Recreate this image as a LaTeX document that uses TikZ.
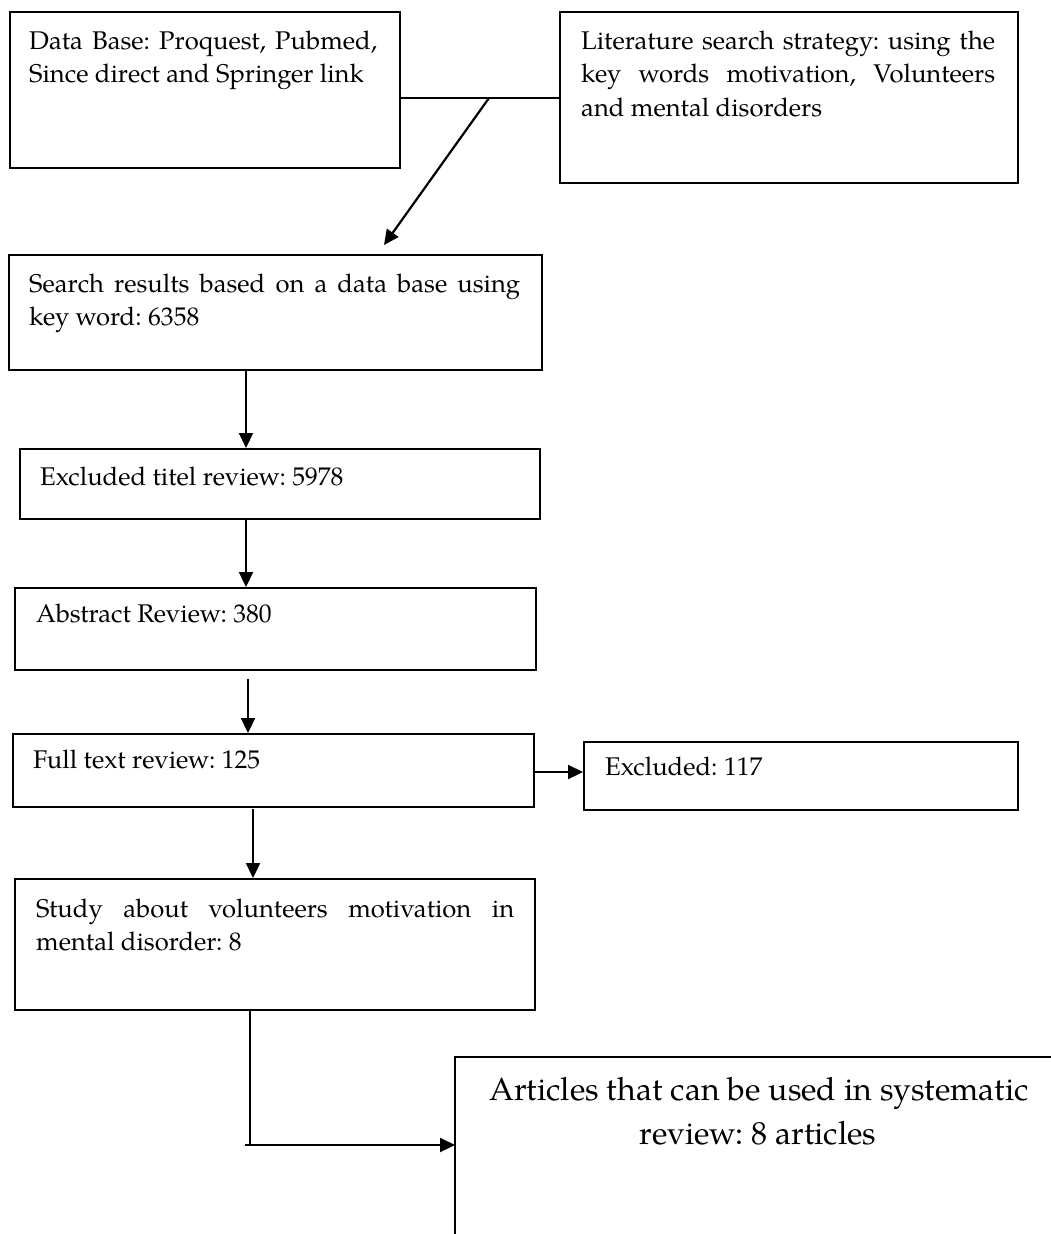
\documentclass[tikz,border=0pt]{standalone}
\usepackage{fontspec}
\setmainfont{TeX Gyre Pagella}
\usetikzlibrary{arrows.meta}
\frenchspacing
\hyphenpenalty=10000
\exhyphenpenalty=10000
\begin{document}
\begin{tikzpicture}[x=1pt,y=-1pt,
  box/.style={draw=black, line width=2.2pt, inner sep=0pt, anchor=north west},
  txt/.style={inner sep=0pt, anchor=base west, font=\fontsize{25.6}{33.5}\selectfont},
  jtxt/.style={txt, align=justify},
  bigtxt/.style={inner sep=0pt, anchor=base, align=center, font=\fontsize{32}{44}\selectfont},
  arr/.style={line width=2.2pt, -{Triangle[length=15pt,width=14pt]}},
  ln/.style={line width=2.2pt}]
\useasboundingbox (0,0) rectangle (1051,1234);
% boxes
\node[box, minimum width=390, minimum height=156] (db) at (9,11) {};
\node[box, minimum width=458, minimum height=171] (lit) at (559,11) {};
\node[box, minimum width=533, minimum height=115] (sr) at (8,254) {};
\node[box, minimum width=520, minimum height=70] (ex) at (19,448) {};
\node[box, minimum width=521, minimum height=82] (ab) at (14,587) {};
\node[box, minimum width=521, minimum height=73] (ft) at (12,733) {};
\node[box, minimum width=434, minimum height=68] (ex2) at (583,741) {};
\node[box, minimum width=520, minimum height=131] (st) at (14,878) {};
% last box (cut off by the page edge)
\coordinate (arTL) at (455,1057);
\draw[ln] (1060,1057) -- (arTL) -- (455,1245);
% texts
\node[jtxt, text width=348] (dbt) at (29,49) {Data Base: Proquest, Pubmed,\linebreak Since direct and Springer link};
\node[jtxt, text width=414] (litt) at (581,49) {Literature search strategy: using the\linebreak key words motivation, Volunteers\linebreak and mental disorders};
\node[jtxt, text width=491] (srt) at (29,292) {Search results based on a data base using\linebreak key word: 6358};
\node[txt] (ext) at (40,485) {Excluded titel review: 5978};
\node[txt] (abt) at (36,622) {Abstract Review: 380};
\node[txt] (ftt) at (33,768) {Full text review: 125};
\node[txt] (ex2t) at (605,775) {Excluded: 117};
\node[jtxt, text width=478] (stt) at (36,917) {Study about volunteers motivation in\linebreak mental disorder: 8};
\node[bigtxt] (art1) at (759,1100) {Articles that can be used in systematic};
\node[bigtxt] (art2) at (758,1144) {review: 8 articles};
% connectors
\coordinate (j) at (489,98);
\coordinate (jtip) at (384,245);
\draw[ln] (db.east |- j) -- (lit.west |- j);
\draw[arr] (j) -- (jtip);
\draw[arr] (246,371) -- (ex.north -| 246,0);
\draw[arr] (246,520) -- (246,587);
\draw[arr] (248,679) -- (248,733);
\draw[arr] (ft.east |- 0,772) -- (ex2.west |- 0,772);
\draw[arr] (253,809) -- (253,878);
\coordinate (bend) at (250,1145);
\draw[ln] (st.south -| bend) -- (bend);
\draw[arr] (245,1145) -- (arTL |- bend);
\end{tikzpicture}
\end{document}
